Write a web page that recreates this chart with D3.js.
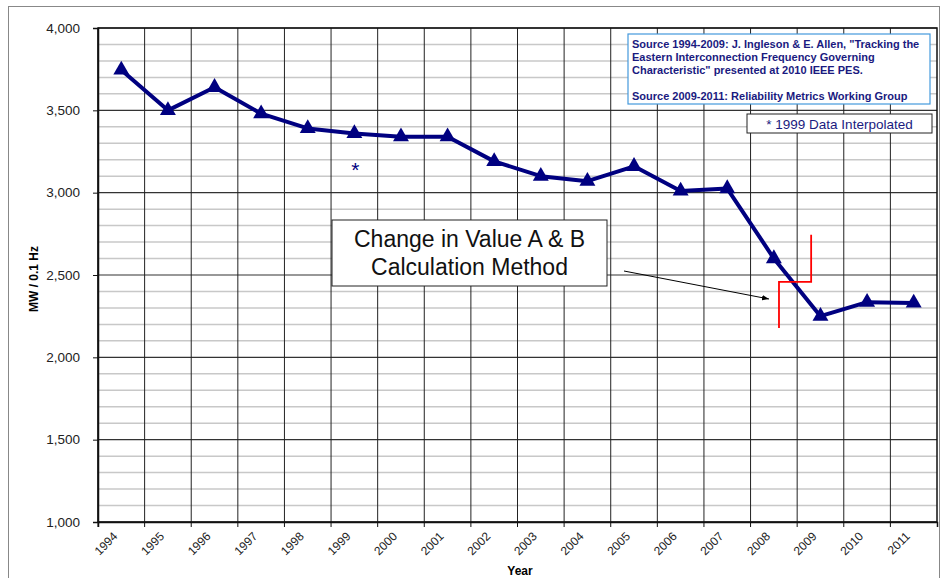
<!DOCTYPE html>
<html><head><meta charset="utf-8">
<script src="https://cdn.jsdelivr.net/npm/d3@7"></script>
<style>body{margin:0;background:#fff}svg{display:block;font-family:Arial,"Liberation Sans",sans-serif}</style>
</head><body><svg id="c" width="941" height="578"></svg>
<script>
const years = ["1994","1995","1996","1997","1998","1999","2000","2001","2002","2003","2004","2005","2006","2007","2008","2009","2010","2011"];
const values = [3745,3500,3640,3480,3390,3360,3340,3340,3190,3100,3070,3160,3010,3025,2600,2250,2335,2330];
const yTicks = [1000,1500,2000,2500,3000,3500,4000];
const sourceLines = ["Source 1994-2009:  J. Ingleson & E. Allen, \"Tracking the","Eastern Interconnection Frequency Governing","Characteristic\"  presented at 2010 IEEE PES.","","Source 2009-2011:  Reliability Metrics Working Group"];
const noteText = "* 1999 Data Interpolated";
const calloutLines = ["Change in Value A & B","Calculation Method"];
const redStep = [[15.3,2745],[15.3,2458],[14.61,2458],[14.61,2178]]; // [category index, value]

const svg = d3.select("#c");
const L=98,R=937,T=28,B=522;
const x = d3.scaleBand().domain(years).range([L,R]).padding(0);
const y = d3.scaleLinear().domain([1000,4000]).range([B,T]);
const xi = i => L + i*x.step() + x.step()/2;

// outer frame
svg.append("rect").attr("x",8.5).attr("y",6.5).attr("width",931).attr("height",575).attr("fill","none").attr("stroke","#888");

// minor gridlines
const minor = d3.range(1100,4000,100).filter(v=>v%500!==0);
svg.append("g").selectAll("line").data(minor).join("line")
  .attr("x1",L).attr("x2",R).attr("y1",d=>y(d)).attr("y2",d=>y(d))
  .attr("stroke","#c8c8c8").attr("stroke-width",1.5);
// major gridlines
svg.append("g").selectAll("line").data(yTicks).join("line")
  .attr("x1",L).attr("x2",R).attr("y1",d=>y(d)).attr("y2",d=>y(d))
  .attr("stroke","#333").attr("stroke-width",1.2);
// vertical gridlines
svg.append("g").selectAll("line").data(years).join("line")
  .attr("x1",d=>x(d)).attr("x2",d=>x(d)).attr("y1",T).attr("y2",B)
  .attr("stroke","#222").attr("stroke-width",1);
// plot border
svg.append("rect").attr("x",L).attr("y",T).attr("width",R-L).attr("height",B-T).attr("fill","none").attr("stroke","#111").attr("stroke-width",1.5);

// y axis
const ya = svg.append("g").attr("transform",`translate(${L},0)`)
  .call(d3.axisLeft(y).tickValues(yTicks).tickFormat(d3.format(",")).tickSize(5).tickPadding(13));
ya.select(".domain").attr("stroke","#111").attr("stroke-width",1.5);
ya.selectAll("text").attr("font-size",13.5).attr("fill","#222").attr("font-family","Arial,'Liberation Sans',sans-serif");
ya.selectAll("line").attr("stroke","#111");

// x axis
const xa = svg.append("g").attr("transform",`translate(0,${B})`)
  .call(d3.axisBottom(x).tickSize(5).tickFormat(""));
xa.select(".domain").attr("stroke","#111").attr("stroke-width",1.5);
xa.selectAll(".tick").attr("transform",d=>`translate(${x(d)},0)`);
xa.selectAll("line").attr("stroke","#111");
svg.append("g").selectAll("text").data(years).join("text")
  .attr("transform",d=>`translate(${x(d)+x.step()/2-3},${B+15}) rotate(-45)`)
  .attr("text-anchor","end").attr("font-size",12).attr("fill","#222").text(d=>d);

// axis titles
svg.append("text").attr("transform",`translate(38,279) rotate(-90)`).attr("text-anchor","middle")
  .attr("font-size",12).attr("font-weight","bold").text("MW / 0.1 Hz");
svg.append("text").attr("x",520).attr("y",575).attr("text-anchor","middle")
  .attr("font-size",12).attr("font-weight","bold").text("Year");

// series line
const line = d3.line().x((d,i)=>x(years[i])+x.step()/2).y(d=>y(d));
svg.append("path").datum(values).attr("d",line).attr("fill","none").attr("stroke","#000080").attr("stroke-width",4).attr("stroke-linejoin","round");
const tri = d3.symbol().type(d3.symbolTriangle).size(110);
svg.append("g").selectAll("path").data(values).join("path")
  .attr("transform",(d,i)=>`translate(${x(years[i])+x.step()/2},${y(d)})`)
  .attr("d",tri).attr("fill","#000080");

// asterisk on 1999
svg.append("text").attr("x",xi(5)+1).attr("y",y(3360)+44).attr("text-anchor","middle")
  .attr("font-size",21).attr("fill","#000080").text("*");

// red step
svg.append("path").attr("d",d3.line()(redStep.map(p=>[L+p[0]*x.step(), y(p[1])])))
  .attr("fill","none").attr("stroke","#ff0000").attr("stroke-width",1.8);

// arrow
svg.append("defs").append("marker").attr("id","ah").attr("viewBox","0 0 10 10").attr("refX",10).attr("refY",5)
  .attr("markerWidth",7).attr("markerHeight",7).attr("orient","auto")
  .append("path").attr("d","M0,1 L10,5 L0,9 Z").attr("fill","#000");
svg.append("line").attr("x1",624).attr("y1",271).attr("x2",769).attr("y2",299)
  .attr("stroke","#000").attr("stroke-width",1).attr("marker-end","url(#ah)");

// callout box
svg.append("rect").attr("x",332).attr("y",220).attr("width",275).attr("height",66).attr("fill","#fff").attr("stroke","#222").attr("stroke-width",1);
svg.append("g").selectAll("text").data(calloutLines).join("text")
  .attr("x",469.5).attr("y",(d,i)=>247+i*28).attr("text-anchor","middle").attr("font-size",23).attr("fill","#111").text(d=>d);

// source box
svg.append("rect").attr("x",628).attr("y",34).attr("width",302).attr("height",70).attr("fill","#fff").attr("stroke","#4499dd").attr("stroke-width",1.2);
svg.append("g").selectAll("text").data(sourceLines).join("text")
  .attr("x",632).attr("y",(d,i)=>47.5+i*13).attr("font-size",11).attr("font-weight","bold").attr("fill","#1a1a80").text(d=>d);

// note box
svg.append("rect").attr("x",747).attr("y",114).attr("width",185).attr("height",19).attr("fill","#fff").attr("stroke","#222").attr("stroke-width",1);
svg.append("text").attr("x",839.5).attr("y",129).attr("text-anchor","middle").attr("font-size",13.5).attr("fill","#1a1a80").text(noteText);
</script></body></html>
